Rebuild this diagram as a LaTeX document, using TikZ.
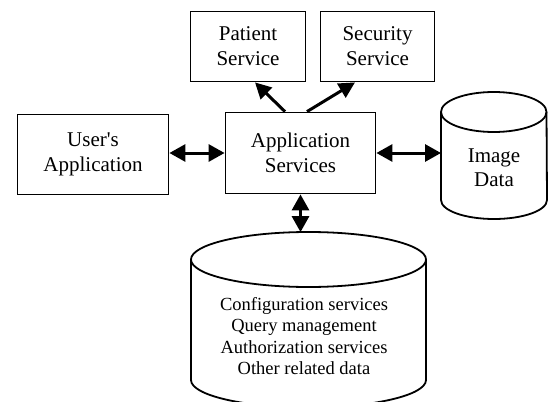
\documentclass[tikz,border=0pt]{standalone}
\usepackage{fontspec}
\setmainfont{Liberation Serif}
\usetikzlibrary{arrows.meta,calc}
\begin{document}
\begin{tikzpicture}[x=1pt,y=1pt]
\tikzset{
  box/.style={draw, line width=1.8pt, align=center, inner sep=0pt,
    font=\fontsize{21}{25}\selectfont},
  vessel/.style={line width=1.8pt},
  vesseltext/.style={align=center, inner sep=0pt},
  link/.style={line width=3pt,
    {Triangle[length=16pt,width=17pt]}-{Triangle[length=16pt,width=17pt]}},
  oneway/.style={line width=3pt, -{Triangle[length=16pt,width=16pt]}}
}
\useasboundingbox (0,0) rectangle (548,-401);
\clip (0,0) rectangle (548,-401);

% service boxes
\node[box, minimum width=115pt, minimum height=70pt] (patient) at (248,-46.5) {Patient\\Service};
\node[box, minimum width=114pt, minimum height=70pt] (security) at (377.5,-46.5) {Security\\Service};
\node[box, minimum width=151pt, minimum height=80pt] (user) at (93,-154.5) {User\textquotesingle s\\Application};
\node[box, minimum width=150pt, minimum height=81pt] (app) at (300.5,-153) {Application\\Services};

% image store
\draw[vessel] (441,-112) -- (441,-200)
  arc[start angle=180, end angle=360, x radius=53, y radius=19] -- (546.5,-112);
\draw[vessel] (493.75,-112) ellipse [x radius=52.75, y radius=20];
\node[vesseltext, font=\fontsize{21}{24}\selectfont] (img) at (494,-168) {Image\\Data};
\coordinate (imgport) at (441,-153);

% configuration store
\draw[vessel] (191,-259.5) -- (191,-380)
  arc[start angle=180, end angle=360, x radius=117.5, y radius=27.5] -- (426,-259.5);
\draw[vessel] (308.5,-259.5) ellipse [x radius=117.5, y radius=27.5];
\node[vesseltext, font=\fontsize{18.5}{21.5}\selectfont] (db) at (304,-336)
  {Configuration services\\Query management\\Authorization services\\Other related data};
\coordinate (dbport) at (300.5,-232.1);

% connectors
\draw[link] (app.west -| user.east) -- (app.west);
\draw[link] (app.east) -- (imgport);
\draw[link] (app.south) -- (dbport);
\draw[oneway] ($(app.north)+(-15.5,0)$) -- ($(patient.south)+(7,0)$);
\draw[oneway] ($(app.north)+(6.5,0)$) -- ($(security.south)+(-22.5,0)$);
\end{tikzpicture}
\end{document}
